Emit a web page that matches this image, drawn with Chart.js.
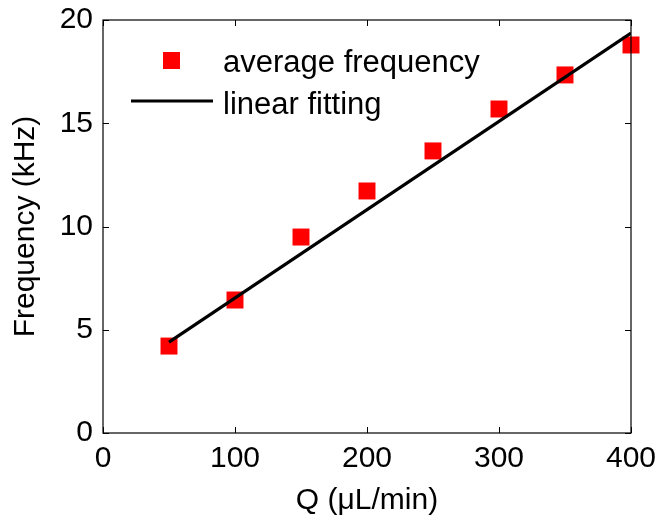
<!DOCTYPE html>
<html><head><meta charset="utf-8">
<script src="https://cdn.jsdelivr.net/npm/chart.js@4/dist/chart.umd.min.js"></script>
<style>html,body{margin:0;padding:0;background:#fff}#wrap{width:659px;height:519px}</style>
</head><body><div id="wrap"><canvas id="c" width="659" height="519"></canvas></div>
<script>
const flowRates = [50, 100, 150, 200, 250, 300, 350, 400];
const avgFrequency = [4.21, 6.44, 9.49, 11.72, 13.66, 15.69, 17.34, 18.79];
const fitX = [50, 400];
const fitY = [4.4, 19.37];
const xTicks = [0, 100, 200, 300, 400];
const yTicks = [0, 5, 10, 15, 20];
const legendLabels = ['average frequency', 'linear fitting'];

const FONT = "'Liberation Sans', Arial, sans-serif";

const framePlugin = {
  id: 'frame',
  afterDraw(chart) {
    const {ctx, chartArea: a, scales: {x, y}} = chart;
    ctx.save();
    ctx.strokeStyle = '#000';
    ctx.lineWidth = 1.2;
    ctx.strokeRect(a.left, a.top, a.right - a.left, a.bottom - a.top);
    const L = 6;
    ctx.lineWidth = 1;
    ctx.beginPath();
    xTicks.forEach(v => {
      const px = Math.round(x.getPixelForValue(v)) + 0.5;
      ctx.moveTo(px, a.bottom); ctx.lineTo(px, a.bottom - L);
      ctx.moveTo(px, a.top); ctx.lineTo(px, a.top + L);
    });
    yTicks.forEach(v => {
      const py = Math.round(y.getPixelForValue(v)) + 0.5;
      ctx.moveTo(a.left, py); ctx.lineTo(a.left + L, py);
      ctx.moveTo(a.right, py); ctx.lineTo(a.right - L, py);
    });
    ctx.stroke();
    // legend
    ctx.fillStyle = '#ff0000';
    ctx.fillRect(163, 52, 17, 17);
    ctx.strokeStyle = '#000';
    ctx.lineWidth = 3.2;
    ctx.beginPath(); ctx.moveTo(131, 101); ctx.lineTo(213, 101); ctx.stroke();
    ctx.fillStyle = '#000';
    ctx.font = '31px ' + FONT;
    ctx.textBaseline = 'alphabetic';
    ctx.textAlign = 'left';
    ctx.fillText(legendLabels[0], 223, 72);
    ctx.fillText(legendLabels[1], 223, 114);
    ctx.restore();
  }
};

new Chart(document.getElementById('c'), {
  type: 'scatter',
  data: {
    datasets: [
      {
        label: legendLabels[0],
        data: flowRates.map((q, i) => ({x: q, y: avgFrequency[i]})),
        pointStyle: 'rect',
        pointRadius: 12,
        pointBorderWidth: 0,
        backgroundColor: '#ff0000',
        borderColor: '#ff0000',
        showLine: false,
        clip: false,
        order: 1
      },
      {
        label: legendLabels[1],
        data: fitX.map((q, i) => ({x: q, y: fitY[i]})),
        showLine: true,
        borderColor: '#000',
        borderWidth: 3.2,
        pointRadius: 0,
        order: 0
      }
    ]
  },
  options: {
    responsive: false,
    animation: false,
    events: [],
    layout: {padding: {top: 20, right: 28, left: 0, bottom: 0}},
    plugins: {legend: {display: false}, tooltip: {enabled: false}},
    scales: {
      x: {
        type: 'linear', min: 0, max: 400,
        afterBuildTicks(s) { s.ticks = xTicks.map(v => ({value: v})); },
        afterFit(s) { s.height = 86; s.paddingLeft = 0; s.paddingRight = 0; },
        grid: {display: false, drawTicks: false},
        border: {display: false},
        ticks: {color: '#000', font: {family: FONT, size: 30}, padding: 8, maxRotation: 0},
        title: {display: true, text: 'Q (μL/min)', color: '#000', font: {family: FONT, size: 30}, padding: {top: 1, bottom: 0}}
      },
      y: {
        type: 'linear', min: 0, max: 20,
        afterBuildTicks(s) { s.ticks = yTicks.map(v => ({value: v})); },
        afterFit(s) { s.width = 103; s.paddingTop = 0; s.paddingBottom = 0; },
        grid: {display: false, drawTicks: false},
        border: {display: false},
        ticks: {color: '#000', font: {family: FONT, size: 30}, padding: 10},
        title: {display: true, text: 'Frequency (kHz)', color: '#000', font: {family: FONT, size: 30}, padding: {top: 8, bottom: 0}}
      }
    }
  },
  plugins: [framePlugin]
});
</script></body></html>
